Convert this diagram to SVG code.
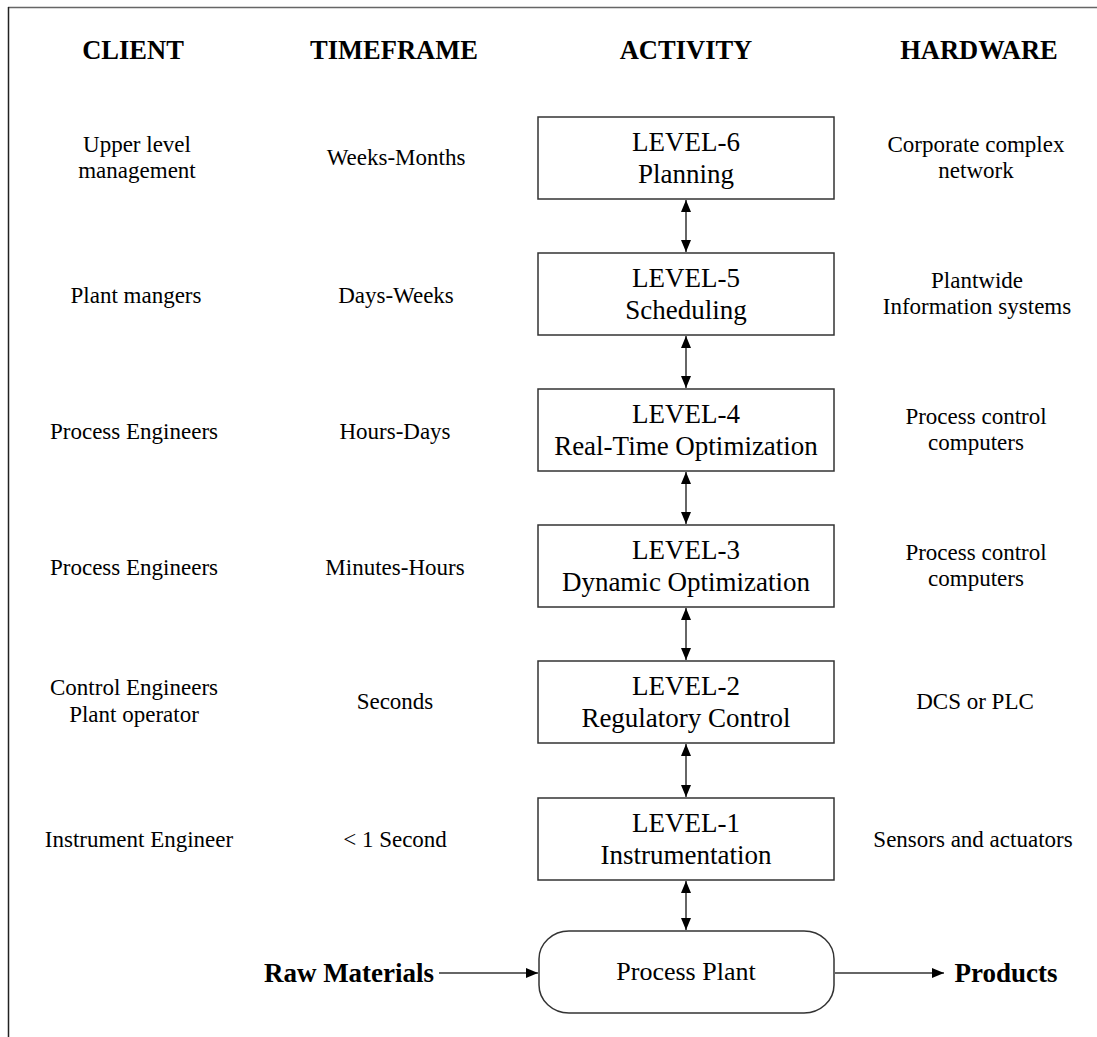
<svg xmlns="http://www.w3.org/2000/svg" width="1097" height="1037" viewBox="0 0 1097 1037">
<style>
text{font-family:"Liberation Serif","Times New Roman",serif;fill:#000;text-anchor:middle}
.h{font-size:26.5px;font-weight:bold}
.b{font-size:27px;font-weight:bold}
.s{font-size:23px}
.t{font-size:27px}
.box{fill:#fff;stroke:#333;stroke-width:1.5}
.ln{stroke:#333;stroke-width:1.5;fill:none}
</style>
<defs>
<marker id="ah" viewBox="0 0 12 10" refX="12" refY="5" markerWidth="12" markerHeight="10" markerUnits="userSpaceOnUse" orient="auto-start-reverse">
<path d="M0,0 L12,5 L0,10 Z" fill="#000"/>
</marker>
</defs>
<rect width="1097" height="1037" fill="#fff"/>
<g id="frame">
<line x1="8" y1="7.5" x2="1097" y2="7.5" stroke="#666" stroke-width="1.5"/>
<line x1="8.5" y1="7" x2="8.5" y2="1037" stroke="#222" stroke-width="1.5"/>
</g>
<g id="headers">
<text class="h" x="133" y="59">CLIENT</text>
<text class="h" x="394" y="59">TIMEFRAME</text>
<text class="h" x="686" y="59">ACTIVITY</text>
<text class="h" x="979" y="59">HARDWARE</text>
</g>
<g id="level6">
<rect class="box" x="538" y="117" width="296" height="82"/>
<text class="t" x="686" y="151">LEVEL-6</text>
<text class="t" x="686" y="183">Planning</text>
</g>
<g id="level5">
<rect class="box" x="538" y="253" width="296" height="82"/>
<text class="t" x="686" y="287">LEVEL-5</text>
<text class="t" x="686" y="319">Scheduling</text>
</g>
<g id="level4">
<rect class="box" x="538" y="389" width="296" height="82"/>
<text class="t" x="686" y="423">LEVEL-4</text>
<text class="t" x="686" y="455">Real-Time Optimization</text>
</g>
<g id="level3">
<rect class="box" x="538" y="525" width="296" height="82"/>
<text class="t" x="686" y="559">LEVEL-3</text>
<text class="t" x="686" y="591">Dynamic Optimization</text>
</g>
<g id="level2">
<rect class="box" x="538" y="661" width="296" height="82"/>
<text class="t" x="686" y="695">LEVEL-2</text>
<text class="t" x="686" y="727">Regulatory Control</text>
</g>
<g id="level1">
<rect class="box" x="538" y="798" width="296" height="82"/>
<text class="t" x="686" y="832">LEVEL-1</text>
<text class="t" x="686" y="864">Instrumentation</text>
</g>
<g id="plant">
<rect class="box" x="539" y="931" width="295" height="82" rx="30" ry="28"/>
<text class="t" x="686" y="980" style="font-size:26px">Process Plant</text>
</g>
<g id="raw"><text class="b" x="349" y="982">Raw Materials</text></g>
<g id="products"><text class="b" x="1006" y="982">Products</text></g>
<g id="client">
<text class="s" x="137" y="152">Upper level</text>
<text class="s" x="137" y="178">management</text>
<text class="s" x="136" y="303">Plant mangers</text>
<text class="s" x="134" y="439">Process Engineers</text>
<text class="s" x="134" y="575">Process Engineers</text>
<text class="s" x="134" y="695">Control Engineers</text>
<text class="s" x="134" y="722">Plant operator</text>
<text class="s" x="139" y="847">Instrument Engineer</text>
</g>
<g id="timeframe">
<text class="s" x="396" y="165">Weeks-Months</text>
<text class="s" x="396" y="303">Days-Weeks</text>
<text class="s" x="395" y="439">Hours-Days</text>
<text class="s" x="395" y="575">Minutes-Hours</text>
<text class="s" x="395" y="709">Seconds</text>
<text class="s" x="395" y="847">&lt; 1 Second</text>
</g>
<g id="hardware">
<text class="s" x="976" y="152">Corporate complex</text>
<text class="s" x="976" y="178">network</text>
<text class="s" x="977" y="288">Plantwide</text>
<text class="s" x="977" y="314">Information systems</text>
<text class="s" x="976" y="424">Process control</text>
<text class="s" x="976" y="450">computers</text>
<text class="s" x="976" y="560">Process control</text>
<text class="s" x="976" y="586">computers</text>
<text class="s" x="975" y="709">DCS or PLC</text>
<text class="s" x="973" y="847">Sensors and actuators</text>
</g>
<g id="connectors">
<line class="ln" x1="686" y1="200" x2="686" y2="252" marker-start="url(#ah)" marker-end="url(#ah)"/>
<line class="ln" x1="686" y1="336" x2="686" y2="388" marker-start="url(#ah)" marker-end="url(#ah)"/>
<line class="ln" x1="686" y1="472" x2="686" y2="524" marker-start="url(#ah)" marker-end="url(#ah)"/>
<line class="ln" x1="686" y1="608" x2="686" y2="660" marker-start="url(#ah)" marker-end="url(#ah)"/>
<line class="ln" x1="686" y1="744" x2="686" y2="797" marker-start="url(#ah)" marker-end="url(#ah)"/>
<line class="ln" x1="686" y1="881" x2="686" y2="930" marker-start="url(#ah)" marker-end="url(#ah)"/>
<line class="ln" x1="439" y1="973" x2="538" y2="973" marker-end="url(#ah)"/>
<line class="ln" x1="835" y1="973" x2="944" y2="973" marker-end="url(#ah)"/>
</g>
</svg>
